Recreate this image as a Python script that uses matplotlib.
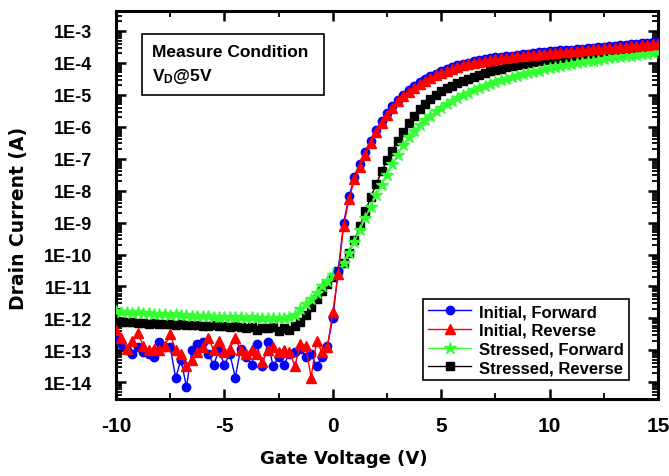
import matplotlib
matplotlib.use('Agg')
import matplotlib.pyplot as plt
import numpy as np
from matplotlib.ticker import LogLocator, FuncFormatter, MultipleLocator
from matplotlib.patches import Rectangle

plt.rcParams['font.family'] = 'Liberation Sans'
plt.rcParams['font.weight'] = 'bold'
plt.rcParams['axes.unicode_minus'] = False
plt.rcParams['mathtext.fontset'] = 'custom'
plt.rcParams['mathtext.rm'] = 'Liberation Sans:bold'
plt.rcParams['mathtext.it'] = 'Liberation Sans:bold'
plt.rcParams['mathtext.bf'] = 'Liberation Sans:bold'

# gate voltage sweep, 0.25 V steps from -10 V to 15 V
vg = np.linspace(-10, 15, 101)

# log10 of drain current (A)
init_fwd_off = [-12.6, -12.8, -13.0, -13.1, -12.9, -13.05, -13.1, -13.2, -12.75, -12.9,
                -12.9, -13.85, -13.3, -14.15, -13.0, -12.8, -12.75, -13.1, -13.45, -13.0,
                -13.45, -13.1, -13.85, -12.95, -13.2, -13.45, -12.8, -13.5, -12.75, -13.5,
                -13.2, -13.45, -13.1, -13.05, -12.95, -13.2, -13.1, -13.5, -13.2, -12.85,
                -12.0]
init_fwd_on = [-10.5, -9.0, -8.18, -7.58, -7.18, -6.8, -6.44, -6.1, -5.82, -5.57,
               -5.35, -5.15, -5.0, -4.85, -4.73, -4.61, -4.51, -4.42, -4.34, -4.26,
               -4.2, -4.14, -4.08, -4.03, -3.99, -3.95, -3.92, -3.89, -3.86, -3.83,
               -3.81, -3.79, -3.77, -3.75, -3.73, -3.71, -3.69, -3.67, -3.66, -3.64,
               -3.63, -3.61, -3.6, -3.59, -3.57, -3.56, -3.54, -3.53, -3.51, -3.5,
               -3.48, -3.47, -3.45, -3.44, -3.42, -3.41, -3.39, -3.38, -3.36, -3.35]

init_rev_off = [-12.35, -12.6, -12.95, -12.7, -12.45, -12.85, -13.0, -12.95, -13.0, -12.85,
                -12.5, -13.0, -13.1, -13.5, -13.3, -13.05, -12.9, -12.6, -13.0, -12.7,
                -13.05, -12.95, -12.6, -13.0, -13.1, -13.0, -13.1, -13.35, -13.0, -12.9,
                -13.05, -13.0, -13.05, -13.5, -12.8, -12.85, -13.85, -12.72, -13.05, -12.9,
                -11.8]
init_rev_on = [-10.6, -9.1, -8.25, -7.65, -7.25, -6.87, -6.5, -6.15, -5.88, -5.63,
               -5.4, -5.2, -5.05, -4.9, -4.78, -4.66, -4.56, -4.47, -4.39, -4.31,
               -4.25, -4.19, -4.13, -4.08, -4.04, -4.0, -3.97, -3.94, -3.91, -3.88,
               -3.86, -3.84, -3.82, -3.8, -3.78, -3.76, -3.74, -3.72, -3.71, -3.69,
               -3.68, -3.66, -3.65, -3.64, -3.62, -3.61, -3.59, -3.58, -3.56, -3.55,
               -3.53, -3.52, -3.5, -3.49, -3.47, -3.46, -3.44, -3.43, -3.41, -3.4]

str_fwd = [-11.78, -11.8, -11.79, -11.82, -11.81, -11.84, -11.83, -11.85, -11.86, -11.85,
           -11.88, -11.87, -11.9, -11.89, -11.91, -11.92, -11.93, -11.92, -11.95, -11.94,
           -11.96, -11.95, -11.97, -11.96, -11.98, -11.97, -11.99, -11.98, -12.0, -11.99,
           -12.0, -11.99,
           -11.96, -11.88, -11.72, -11.56, -11.4, -11.2, -11.0, -10.82, -10.64, -10.48,
           -10.25, -9.95, -9.6, -9.22, -8.85, -8.5, -8.15, -7.82, -7.5, -7.18,
           -6.87, -6.58, -6.33,
           -6.13, -5.95, -5.79, -5.65, -5.52, -5.4, -5.29, -5.19, -5.1, -5.01,
           -4.93, -4.86, -4.79, -4.72, -4.66, -4.6, -4.55, -4.5, -4.45, -4.4,
           -4.36, -4.32, -4.28, -4.24, -4.2, -4.17, -4.13, -4.1, -4.07, -4.04,
           -4.01, -3.98, -3.95, -3.93, -3.9, -3.88, -3.85, -3.83, -3.81, -3.79,
           -3.77, -3.75, -3.73, -3.71, -3.69, -3.67]

str_rev = [-12.08, -12.1, -12.12, -12.11, -12.14, -12.13, -12.16, -12.15, -12.17, -12.18,
           -12.17, -12.2, -12.19, -12.21, -12.22, -12.2, -12.23, -12.24, -12.22, -12.25,
           -12.24, -12.26, -12.25, -12.27, -12.3, -12.28, -12.36, -12.29, -12.3, -12.28,
           -12.38, -12.3, -12.35,
           -12.25, -12.1, -11.9, -11.65, -11.4, -11.15, -10.92, -10.7, -10.52, -10.28,
           -9.95, -9.55, -9.12, -8.65, -8.2, -7.8, -7.4, -7.05, -6.75, -6.45,
           -6.15, -5.88, -5.65, -5.45, -5.28, -5.13, -5.0, -4.89, -4.8, -4.71,
           -4.63, -4.56, -4.49, -4.43, -4.37, -4.32, -4.27, -4.22, -4.18, -4.14,
           -4.1, -4.07, -4.03, -4.0, -3.97, -3.94, -3.92, -3.89, -3.87, -3.84,
           -3.82, -3.8, -3.78, -3.76, -3.74, -3.72, -3.7, -3.69, -3.67, -3.65,
           -3.64, -3.62, -3.61, -3.59, -3.58, -3.57, -3.56, -3.55]

labels = ['Initial, Forward', 'Initial, Reverse', 'Stressed, Forward', 'Stressed, Reverse']
colors = ['#0000ff', '#ff0000', '#33ff33', '#000000']
markers = ['o', '^', '*', 's']
msizes = [6, 7, 9, 5.5]
zorders = [4, 5, 3, 2]
series = [init_fwd_off + init_fwd_on, init_rev_off + init_rev_on, str_fwd, str_rev]

fig = plt.figure(figsize=(6.69, 4.77), dpi=100)
ax = fig.add_axes([0.1734, 0.1614, 0.8102, 0.8134])

for lab, col, mk, ms, zo, vals in zip(labels, colors, markers, msizes, zorders, series):
    ax.plot(vg, 10.0 ** np.array(vals), color=col, marker=mk, markersize=ms,
            markeredgecolor=col, linewidth=1.0, label=lab, zorder=zo)

ax.set_yscale('log')
ax.set_xlim(-10, 15)
ax.set_ylim(3e-15, 4.2e-3)
ax.set_yticks([10.0 ** k for k in range(-14, -2)])
ax.yaxis.set_minor_locator(LogLocator(base=10, subs=np.arange(2, 10), numticks=30))
ax.yaxis.set_major_formatter(FuncFormatter(lambda v, p: '1E%d' % round(np.log10(v))))
ax.xaxis.set_major_locator(MultipleLocator(5))
ax.xaxis.set_minor_locator(MultipleLocator(2.5))

ax.tick_params(axis='both', which='both', direction='in', top=True, right=True)
ax.tick_params(which='major', length=7, width=1.8)
ax.tick_params(which='minor', length=4, width=1.3)
ax.tick_params(axis='x', which='major', labelsize=15, pad=12)
ax.tick_params(axis='y', which='major', labelsize=13, pad=17)
for sp in ax.spines.values():
    sp.set_linewidth(2.2)

ax.set_xlabel('Gate Voltage (V)', fontsize=13, fontweight='bold', family='DejaVu Sans')
ax.set_ylabel('Drain Current (A)', fontsize=13.5, fontweight='bold', family='DejaVu Sans')
ax.xaxis.set_label_coords(0.42, -0.128)
ax.yaxis.set_label_coords(-0.162, 0.469)

# measure condition box
ax.add_patch(Rectangle((0.048, 0.784), 0.336, 0.157, transform=ax.transAxes,
                       facecolor='white', edgecolor='black', linewidth=1.2, zorder=6))
ax.text(0.066, 0.884, 'Measure Condition', transform=ax.transAxes, fontsize=12.5,
        fontweight='bold', va='baseline', zorder=7)
ax.text(0.066, 0.822, 'V$_D$@5V', transform=ax.transAxes, fontsize=12.5,
        fontweight='bold', va='baseline', zorder=7)

leg = ax.legend(loc='lower right', bbox_to_anchor=(0.946, 0.049), borderaxespad=0,
                fontsize=12, frameon=True, fancybox=False, framealpha=1,
                edgecolor='black', handlelength=2.6, handletextpad=0.45,
                labelspacing=0.22, borderpad=0.3, numpoints=1)
leg.get_frame().set_linewidth(1.2)
leg.set_zorder(8)

fig.savefig('out.png', dpi=100)
